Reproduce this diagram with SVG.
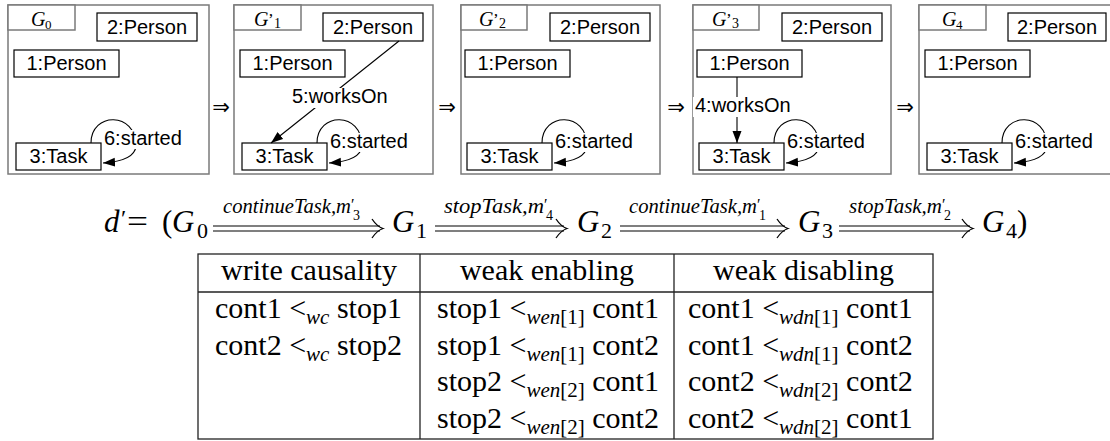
<svg xmlns="http://www.w3.org/2000/svg" width="1110" height="441" viewBox="0 0 1110 441">
<style>
.frame{fill:none;stroke:#7a7a7a;stroke-width:1.5}
.tab{fill:#fff;stroke:#7a7a7a;stroke-width:1.5}
.node{fill:#fff;stroke:#000;stroke-width:1.2}
.nt{font-family:"Liberation Sans",Arial,sans-serif;font-size:20px;fill:#000}
.ser{font-family:"Liberation Serif","Times New Roman",serif;fill:#000}
.it{font-style:italic}
.edge{fill:none;stroke:#000;stroke-width:1.1}
.bg{fill:#fff}
.imp{font-family:"DejaVu Sans",sans-serif;font-size:21px;fill:#000}
.dl{stroke:#000;stroke-width:1.2}
.tl{stroke:#222;stroke-width:1.3;fill:none}
.tb{font-family:"Liberation Serif","Times New Roman",serif;font-size:30px;fill:#000}
.sb{font-size:21px}
</style>
<defs>
<marker id="ah" markerUnits="userSpaceOnUse" markerWidth="13" markerHeight="10" refX="12" refY="4.5" orient="auto"><path d="M0,0 L12,4.5 L0,9 z" fill="#000"/></marker>
<path id="dh" d="M-11,-9.5 Q-6,-2 0,0 Q-6,2 -11,9.5" fill="none" stroke="#000" stroke-width="1.3"/>
</defs>

<!-- Panel G0 -->
<g id="panel-G0">
<rect class="frame" x="8" y="5" width="201" height="169"/>
<rect class="tab" x="8" y="5" width="67" height="25"/>
<text class="ser it" x="31" y="26" font-size="20">G</text><text class="ser" x="45" y="29" font-size="13">0</text>
</g>
<g id="G0-person2"><rect class="node" x="97" y="13" width="100" height="28"/><text class="nt" x="147" y="34" text-anchor="middle">2:Person</text></g>
<g id="G0-person1"><rect class="node" x="14" y="50" width="105" height="27"/><text class="nt" x="66.5" y="70" text-anchor="middle">1:Person</text></g>
<g id="G0-task3"><rect class="node" x="16" y="143" width="85" height="27"/><text class="nt" x="58.5" y="163" text-anchor="middle">3:Task</text></g>

<!-- Panel G'1 -->
<g id="panel-G1">
<rect class="frame" x="234" y="5" width="199" height="169"/>
<rect class="tab" x="234" y="5" width="67" height="25"/>
<text class="ser it" x="254" y="26" font-size="20">G</text><text class="ser" x="268" y="25" font-size="17">’</text><text class="ser" x="274" y="28" font-size="14">1</text>
</g>
<g id="G1-person2"><rect class="node" x="323" y="13" width="100" height="28"/><text class="nt" x="373" y="34" text-anchor="middle">2:Person</text></g>
<g id="G1-person1"><rect class="node" x="240" y="50" width="105" height="27"/><text class="nt" x="292.5" y="70" text-anchor="middle">1:Person</text></g>
<g id="G1-task3"><rect class="node" x="242" y="143" width="85" height="27"/><text class="nt" x="284.5" y="163" text-anchor="middle">3:Task</text></g>

<!-- Panel G'2 -->
<g id="panel-G2">
<rect class="frame" x="461" y="5" width="199" height="169"/>
<rect class="tab" x="461" y="5" width="66" height="25"/>
<text class="ser it" x="479" y="26" font-size="20">G</text><text class="ser" x="493" y="25" font-size="17">’</text><text class="ser" x="499" y="28" font-size="14">2</text>
</g>
<g id="G2-person2"><rect class="node" x="550" y="13" width="100" height="28"/><text class="nt" x="600" y="34" text-anchor="middle">2:Person</text></g>
<g id="G2-person1"><rect class="node" x="465" y="50" width="105" height="27"/><text class="nt" x="517.5" y="70" text-anchor="middle">1:Person</text></g>
<g id="G2-task3"><rect class="node" x="467" y="143" width="85" height="27"/><text class="nt" x="509.5" y="163" text-anchor="middle">3:Task</text></g>

<!-- Panel G'3 -->
<g id="panel-G3">
<rect class="frame" x="693" y="5" width="198" height="169"/>
<rect class="tab" x="693" y="5" width="66" height="25"/>
<text class="ser it" x="712" y="26" font-size="20">G</text><text class="ser" x="726" y="25" font-size="17">’</text><text class="ser" x="732" y="28" font-size="14">3</text>
</g>
<g id="G3-person2"><rect class="node" x="782" y="13" width="100" height="28"/><text class="nt" x="832" y="34" text-anchor="middle">2:Person</text></g>
<g id="G3-person1"><rect class="node" x="697" y="50" width="105" height="27"/><text class="nt" x="749.5" y="70" text-anchor="middle">1:Person</text></g>
<g id="G3-task3"><rect class="node" x="699" y="143" width="85" height="27"/><text class="nt" x="741.5" y="163" text-anchor="middle">3:Task</text></g>

<!-- Panel G4 -->
<g id="panel-G4">
<rect class="frame" x="919" y="5" width="200" height="169"/>
<rect class="tab" x="919" y="5" width="67" height="25"/>
<text class="ser it" x="942" y="26" font-size="20">G</text><text class="ser" x="956" y="29" font-size="13">4</text>
</g>
<g id="G4-person2"><rect class="node" x="1008" y="13" width="98" height="28"/><text class="nt" x="1057" y="34" text-anchor="middle">2:Person</text></g>
<g id="G4-person1"><rect class="node" x="925" y="50" width="105" height="27"/><text class="nt" x="977.5" y="70" text-anchor="middle">1:Person</text></g>
<g id="G4-task3"><rect class="node" x="927" y="143" width="85" height="27"/><text class="nt" x="969.5" y="163" text-anchor="middle">3:Task</text></g>

<!-- transformation steps between panels -->
<g id="steps">
<text class="imp" x="221" y="114" text-anchor="middle">⇒</text>
<text class="imp" x="447" y="114" text-anchor="middle">⇒</text>
<text class="imp" x="676" y="114" text-anchor="middle">⇒</text>
<text class="imp" x="905" y="114" text-anchor="middle">⇒</text>
</g>

<g id="connectors">
<!-- started loops -->
<path class="edge" marker-end="url(#ah)" d="M91,143 C91,112 136,111 136,146 C135,158 118,162 103,163"/>
<path class="edge" marker-end="url(#ah)" d="M317,143 C317,112 362,111 362,146 C361,158 344,162 329,163"/>
<path class="edge" marker-end="url(#ah)" d="M542,143 C542,112 587,111 587,146 C586,158 569,162 554,163"/>
<path class="edge" marker-end="url(#ah)" d="M774,143 C774,112 819,111 819,146 C818,158 801,162 786,163"/>
<path class="edge" marker-end="url(#ah)" d="M1002,143 C1002,112 1047,111 1047,146 C1046,158 1029,162 1014,163"/>
<!-- worksOn edges -->
<line class="edge" marker-end="url(#ah)" x1="399" y1="41" x2="271" y2="143"/>
<line class="edge" marker-end="url(#ah)" x1="737" y1="77" x2="737" y2="143"/>
<!-- labels -->
<rect class="bg" x="103" y="130" width="86" height="19"/><text class="nt" x="104" y="145">6:started</text>
<rect class="bg" x="329" y="133" width="86" height="19"/><text class="nt" x="330" y="148">6:started</text>
<rect class="bg" x="554" y="133" width="86" height="19"/><text class="nt" x="555" y="148">6:started</text>
<rect class="bg" x="786" y="133" width="86" height="19"/><text class="nt" x="787" y="148">6:started</text>
<rect class="bg" x="1014" y="133" width="86" height="19"/><text class="nt" x="1015" y="148">6:started</text>
<rect class="bg" x="290" y="88" width="104" height="20"/><text class="nt" x="292" y="103">5:worksOn</text>
<rect class="bg" x="693" y="97" width="98" height="20"/><text class="nt" x="695" y="112">4:worksOn</text>
</g>

<!-- derivation -->
<g id="derivation">
<text class="ser it" x="104" y="232" font-size="31">d</text>
<text class="ser" x="121" y="226" font-size="24">′</text>
<text class="ser" x="127" y="232" font-size="31" textLength="21" lengthAdjust="spacingAndGlyphs">=</text>
<text class="ser" x="162" y="232" font-size="31">(</text>
<text class="ser it" x="172" y="232" font-size="31">G</text><text class="ser" x="197" y="238" font-size="22">0</text>

<line class="dl" x1="213" y1="226" x2="380" y2="226"/><line class="dl" x1="213" y1="231" x2="380" y2="231"/>
<use href="#dh" x="383" y="228.5"/>
<text class="ser it" x="223" y="213" font-size="20" textLength="128" lengthAdjust="spacingAndGlyphs">continueTask,m</text>
<text class="ser" x="351" y="210" font-size="16">′</text><text class="ser" x="353" y="220" font-size="14">3</text>

<text class="ser it" x="392" y="232" font-size="31">G</text><text class="ser" x="416" y="238" font-size="22">1</text>

<line class="dl" x1="435" y1="226" x2="564" y2="226"/><line class="dl" x1="435" y1="231" x2="564" y2="231"/>
<use href="#dh" x="567" y="228.5"/>
<text class="ser it" x="444" y="213" font-size="20" textLength="100" lengthAdjust="spacingAndGlyphs">stopTask,m</text>
<text class="ser" x="544" y="210" font-size="16">′</text><text class="ser" x="546" y="220" font-size="14">4</text>

<text class="ser it" x="577" y="232" font-size="31">G</text><text class="ser" x="601" y="238" font-size="22">2</text>

<line class="dl" x1="620" y1="226" x2="785" y2="226"/><line class="dl" x1="620" y1="231" x2="785" y2="231"/>
<use href="#dh" x="788" y="228.5"/>
<text class="ser it" x="629" y="213" font-size="20" textLength="128" lengthAdjust="spacingAndGlyphs">continueTask,m</text>
<text class="ser" x="757" y="210" font-size="16">′</text><text class="ser" x="759" y="220" font-size="14">1</text>

<text class="ser it" x="798" y="232" font-size="31">G</text><text class="ser" x="822" y="238" font-size="22">3</text>

<line class="dl" x1="839" y1="226" x2="970" y2="226"/><line class="dl" x1="839" y1="231" x2="970" y2="231"/>
<use href="#dh" x="973" y="228.5"/>
<text class="ser it" x="849" y="213" font-size="20" textLength="93" lengthAdjust="spacingAndGlyphs">stopTask,m</text>
<text class="ser" x="942" y="210" font-size="16">′</text><text class="ser" x="944" y="220" font-size="14">2</text>

<text class="ser it" x="982" y="232" font-size="31">G</text><text class="ser" x="1006" y="238" font-size="22">4</text>
<text class="ser" x="1017" y="232" font-size="31">)</text>
</g>

<!-- table -->
<g id="table">
<rect class="tl" x="198" y="254" width="735" height="185"/>
<line class="tl" x1="198" y1="292" x2="933" y2="292"/>
<line class="tl" x1="420" y1="254" x2="420" y2="439"/>
<line class="tl" x1="674" y1="254" x2="674" y2="439"/>

<text class="tb" x="309" y="280" text-anchor="middle">write causality</text>
<text class="tb" x="547" y="280" text-anchor="middle">weak enabling</text>
<text class="tb" x="803.5" y="280" text-anchor="middle">weak disabling</text>

<text class="tb" x="215" y="318">cont1 &lt;<tspan class="sb it" dy="6">wc</tspan><tspan dy="-6"> stop1</tspan></text>
<text class="tb" x="215" y="355">cont2 &lt;<tspan class="sb it" dy="6">wc</tspan><tspan dy="-6"> stop2</tspan></text>

<text class="tb" x="437" y="318">stop1 &lt;<tspan class="sb" dy="6"><tspan class="it">wen</tspan>[1]</tspan><tspan dy="-6"> cont1</tspan></text>
<text class="tb" x="437" y="355">stop1 &lt;<tspan class="sb" dy="6"><tspan class="it">wen</tspan>[1]</tspan><tspan dy="-6"> cont2</tspan></text>
<text class="tb" x="437" y="391">stop2 &lt;<tspan class="sb" dy="6"><tspan class="it">wen</tspan>[2]</tspan><tspan dy="-6"> cont1</tspan></text>
<text class="tb" x="437" y="428">stop2 &lt;<tspan class="sb" dy="6"><tspan class="it">wen</tspan>[2]</tspan><tspan dy="-6"> cont2</tspan></text>

<text class="tb" x="688" y="318">cont1 &lt;<tspan class="sb" dy="6"><tspan class="it">wdn</tspan>[1]</tspan><tspan dy="-6"> cont1</tspan></text>
<text class="tb" x="688" y="355">cont1 &lt;<tspan class="sb" dy="6"><tspan class="it">wdn</tspan>[1]</tspan><tspan dy="-6"> cont2</tspan></text>
<text class="tb" x="688" y="391">cont2 &lt;<tspan class="sb" dy="6"><tspan class="it">wdn</tspan>[2]</tspan><tspan dy="-6"> cont2</tspan></text>
<text class="tb" x="688" y="428">cont2 &lt;<tspan class="sb" dy="6"><tspan class="it">wdn</tspan>[2]</tspan><tspan dy="-6"> cont1</tspan></text>
</g>
</svg>
